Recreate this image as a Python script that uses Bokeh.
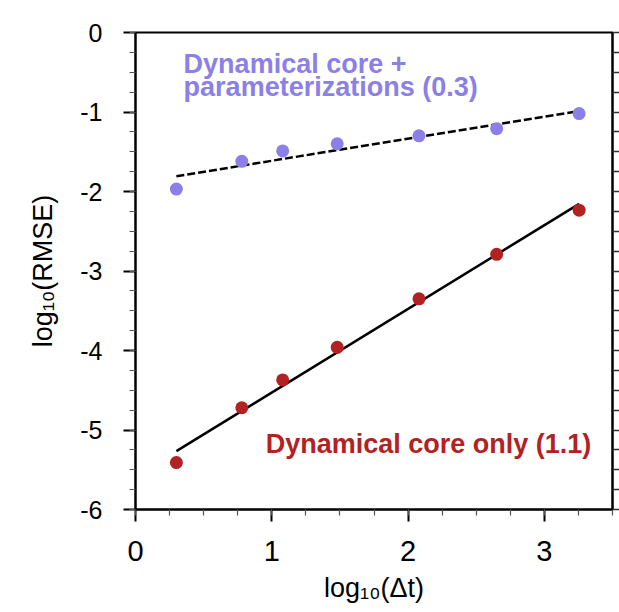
import numpy as np
from bokeh.plotting import figure
from bokeh.models import (Range1d, SingleIntervalTicker, FixedTicker,
                          LinearAxis, Label)
from bokeh.embed import file_html
from bokeh.resources import INLINE

# ---- data ----
log_dt = [0.30, 0.78, 1.08, 1.48, 2.08, 2.65, 3.255]
rmse_dyn_param = [-1.97, -1.62, -1.49, -1.40, -1.30, -1.21, -1.02]
rmse_dyn_only = [-5.41, -4.72, -4.37, -3.96, -3.35, -2.79, -2.235]
x_tick_labels = ["0", "1", "2", "3"]
y_tick_labels = ["-6", "-5", "-4", "-3", "-2", "-1", "0"]
label_param = ["Dynamical core +", "parameterizations (0.3)"]
label_core = "Dynamical core only (1.1)"
x_title = "log\u2081\u2080(\u0394t)"
y_title = "log\u2081\u2080(RMSE)"

PURPLE = "#8b7fe8"
RED = "#b22222"
SANS = "Liberation Sans"

p = figure(frame_width=477, frame_height=477,
           x_range=Range1d(0, 3.5), y_range=Range1d(-6, 0),
           output_backend="svg", toolbar_location=None,
           x_axis_location=None, y_axis_location=None,
           min_border_left=135, min_border_top=32, min_border_right=7,
           min_border_bottom=100,
           background_fill_color="white", border_fill_color="white")
p.grid.visible = False
p.outline_line_color = "black"
p.outline_line_width = 2


def style_axis(ax):
    ax.axis_line_width = 2
    ax.axis_line_color = "black"
    ax.major_tick_line_width = 2
    ax.major_tick_out = 12
    ax.major_tick_in = 0
    ax.minor_tick_out = 6
    ax.minor_tick_in = 0
    ax.minor_tick_line_width = 1.2
    ax.minor_tick_line_color = "#555555"
    ax.major_label_text_font = SANS
    ax.major_label_text_color = "black"
    ax.axis_label_text_font = SANS
    ax.axis_label_text_font_size = "27px"
    ax.axis_label_text_font_style = "normal"
    ax.axis_label_text_color = "black"


xa = LinearAxis(ticker=SingleIntervalTicker(interval=1, num_minor_ticks=4),
                axis_label=x_title)
style_axis(xa)
xa.major_label_text_font_size = "29px"
xa.major_label_standoff = 19
xa.axis_label_standoff = 9
xa.major_label_overrides = {i: s for i, s in enumerate(x_tick_labels)}
p.add_layout(xa, "below")

ya = LinearAxis(ticker=SingleIntervalTicker(interval=1, num_minor_ticks=4),
                axis_label=y_title)
style_axis(ya)
ya.major_label_text_font_size = "25px"
ya.major_label_standoff = 21
ya.axis_label_standoff = 19
ya.major_label_overrides = {int(s): s for s in y_tick_labels}
p.add_layout(ya, "left")

# right side: tick marks only, no labels
y_lo, y_hi = int(y_tick_labels[0]), int(y_tick_labels[-1])
right_ticks = list(np.arange(y_lo, y_hi + 0.001, 0.25))
ra = LinearAxis(ticker=FixedTicker(ticks=[], minor_ticks=right_ticks))
ra.axis_line_width = 2
ra.minor_tick_out = 7
ra.minor_tick_in = 0
ra.minor_tick_line_width = 1.5
ra.minor_tick_line_color = "#333333"
ra.major_label_standoff = 0
p.add_layout(ra, "right")

# ---- fit lines (least squares on the points) ----
for ys, dash in ((rmse_dyn_param, "8 3"), (rmse_dyn_only, "solid")):
    k, b = np.polyfit(log_dt, ys, 1)
    xs = [log_dt[0], log_dt[-1]]
    p.line(xs, [k * x + b for x in xs], line_color="black", line_width=2.5,
           line_dash=dash)

p.scatter(log_dt, rmse_dyn_param, size=13, color=PURPLE, line_color=None)
p.scatter(log_dt, rmse_dyn_only, size=13, color=RED, line_color=None)

# ---- in-plot annotations ----
for txt, yy in ((label_param[0], -0.39), (label_param[1], -0.69)):
    p.add_layout(Label(x=0.353, y=yy, text=txt, text_font=SANS,
                       text_font_size="27px", text_font_style="bold",
                       text_color=PURPLE, text_baseline="alphabetic"))
p.add_layout(Label(x=0.955, y=-5.17, text=label_core, text_font=SANS,
                   text_font_size="27px", text_font_style="bold",
                   text_color=RED, text_baseline="alphabetic"))

open("out.html", "w").write(file_html(p, INLINE))
